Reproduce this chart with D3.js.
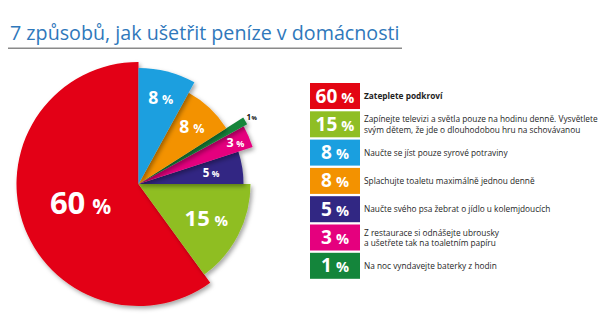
<!DOCTYPE html>
<html><head><meta charset="utf-8">
<script src="https://cdn.jsdelivr.net/npm/d3@7/dist/d3.min.js"></script>
<style>html,body{margin:0;padding:0;background:#fff;}svg{display:block;}</style>
</head><body>
<svg id="chart" width="610" height="323"></svg>
<script>
const title = "7 způsobů, jak ušetřit peníze v domácnosti";
const values = [60, 15, 8, 8, 5, 3, 1];
const descriptions = [
  ["Zateplete podkroví"],
  ["Zapínejte televizi  a světla pouze na hodinu denně. Vysvětlete", "svým dětem, že jde o dlouhodobou hru na schovávanou"],
  ["Naučte se jíst pouze syrové potraviny"],
  ["Splachujte toaletu maximálně jednou denně"],
  ["Naučte svého psa žebrat o jídlo u kolemjdoucích"],
  ["Z restaurace si odnášejte ubrousky", "a ušetřete tak na toaletním papíru"],
  ["Na noc vyndavejte baterky z hodin"]
];
const colors = ["#e30613", "#8fbe24", "#1a9fdf", "#f39200", "#312783", "#e5007e", "#14853b"];
// clockwise order of slices from 12 o'clock (indices into the arrays above)
const pieOrder = [2, 3, 6, 5, 4, 1, 0];

// styling per slice (legend order)
const outerR = [122, 112, 116, 104, 105, 120, 124];
const labelR = [0.5, 0.68, 0.77, 0.75, 0.7, 0.88, 1.06];
const numSize = [31, 22, 17.5, 17.5, 11.5, 12.5, 8];
const pctSize = [21, 15, 12.5, 12.5, 8.5, 9, 6];
const labelFill = ["#fff", "#fff", "#fff", "#fff", "#fff", "#fff", "#111"];

const svg = d3.select("#chart");
const defs = svg.append("defs");
const f = defs.append("filter").attr("id", "sh").attr("x", "-20%").attr("y", "-20%").attr("width", "140%").attr("height", "140%");
f.append("feDropShadow").attr("dx", 2).attr("dy", 2.5).attr("stdDeviation", 2).attr("flood-color", "#000").attr("flood-opacity", 0.35);

// Title
const t = svg.append("text").attr("x", 10).attr("y", 40)
  .attr("font-family", "'Open Sans', sans-serif").attr("font-size", 23)
  .attr("fill", "#2f78bb").text(title);
const tw = t.node().getComputedTextLength();
t.attr("font-size", 23 * 390 / tw);
svg.append("line").attr("x1", 8).attr("x2", 402).attr("y1", 48.3).attr("y2", 48.3)
  .attr("stroke", "#8a8a8a").attr("stroke-width", 1.5);

// Pie
const cx = 138.5, cy = 184;
const pieData = pieOrder.map(i => ({ i, v: values[i] }));
const arcs = d3.pie().sort(null).value(d => d.v).startAngle(0).endAngle(2 * Math.PI)(pieData);
const g = svg.append("g").attr("transform", `translate(${cx},${cy})`);
const arc = d3.arc().innerRadius(0).outerRadius(d => outerR[d.data.i]);
g.selectAll("path.slice").data(arcs.slice().reverse()).join("path")
  .attr("class", "slice")
  .attr("d", arc)
  .attr("fill", d => colors[d.data.i])
  .attr("filter", "url(#sh)");

const lab = g.selectAll("text.lab").data(arcs).join("text")
  .attr("class", "lab")
  .attr("text-anchor", "middle")
  .attr("font-family", "'Open Sans', sans-serif").attr("font-weight", 700)
  .attr("fill", d => labelFill[d.data.i])
  .attr("transform", d => {
    const a = (d.startAngle + d.endAngle) / 2;
    const r = outerR[d.data.i] * labelR[d.data.i];
    const x = Math.sin(a) * r, y = -Math.cos(a) * r + numSize[d.data.i] * 0.36;
    return `translate(${x},${y})`;
  });
lab.append("tspan").attr("font-size", d => numSize[d.data.i]).text(d => d.data.v);
lab.append("tspan").attr("font-size", d => pctSize[d.data.i]).attr("dx", d => d.data.i === 6 ? 0.5 : numSize[d.data.i] * 0.22).text("%");

// Legend
const x0 = 310, y0 = 83, step = 28.3, bw = 50, bh = 26;
const leg = svg.append("g");
const rows = leg.selectAll("g").data(values).join("g")
  .attr("transform", (d, i) => `translate(${x0},${y0 + i * step})`);
rows.append("rect").attr("width", bw).attr("height", bh).attr("fill", (d, i) => colors[i]);
const bt = rows.append("text").attr("x", bw / 2).attr("y", bh / 2 + 6.5)
  .attr("text-anchor", "middle").attr("fill", "#fff")
  .attr("font-family", "'Open Sans', sans-serif").attr("font-weight", 700);
bt.append("tspan").attr("font-size", 19).text(d => d);
bt.append("tspan").attr("font-size", 14.5).attr("dx", 4).text("%");

const desc = rows.append("text").attr("x", 54)
  .attr("font-family", "'Open Sans', sans-serif").attr("font-size", 9)
  .attr("fill", "#1e1e1e")
  .attr("font-weight", (d, i) => i === 0 ? 700 : 400);
desc.each(function (d, i) {
  const lines = descriptions[i];
  const sel = d3.select(this);
  const lh = 10.3;
  const start = bh / 2 + 3.2 - (lines.length - 1) * lh / 2;
  lines.forEach((ln, k) => sel.append("tspan").attr("x", 54).attr("y", start + k * lh).text(ln));
});
// fit description font so the longest line spans the measured width
const longest = desc.filter((d, i) => i === 1).select("tspan").node().getComputedTextLength();
const fs = 9 * 234 / longest;
desc.attr("font-size", fs);
</script>
</body></html>
